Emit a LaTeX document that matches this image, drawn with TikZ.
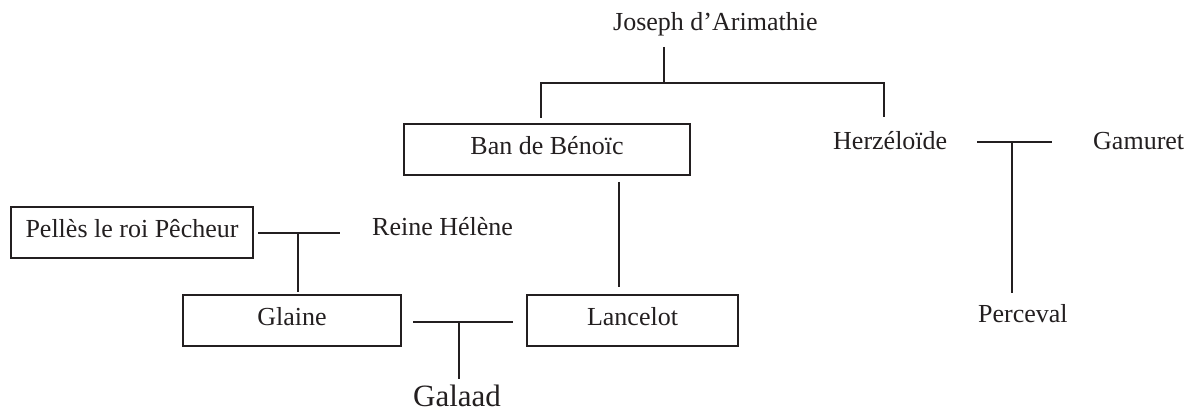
\documentclass[tikz,border=0pt]{standalone}
\usepackage{fontspec}
\setmainfont{Liberation Serif}
\definecolor{encre}{HTML}{231F20}
\begin{document}
\begin{tikzpicture}[x=1pt,y=-1pt,
  lbl/.style={inner sep=0pt,anchor=base west,font=\fontsize{26}{30}\selectfont,text=encre},
  boite/.style={draw=encre,line width=2.6pt,inner sep=0pt,text height=17pt,text depth=6pt,
    font=\fontsize{26}{30}\selectfont,text=encre},
  lien/.style={draw=encre,line width=2.6pt}]
\useasboundingbox (0,0) rectangle (1187,414);
% boxed persons
\node[boite,minimum width=286pt,minimum height=51pt] (ban) at (547,149.5) {Ban de Bénoïc};
\node[boite,minimum width=242pt,minimum height=51pt] (pelles) at (132,232.5) {Pellès le roi Pêcheur};
\node[boite,minimum width=218pt,minimum height=51pt] (glaine) at (292,320.5) {Glaine};
\node[boite,minimum width=211pt,minimum height=51pt] (lancelot) at (632.5,320.5) {Lancelot};
% plain names
\node[lbl] (joseph) at (613,31) {Joseph d’Arimathie};
\node[lbl] (herz) at (833,150) {Herzéloïde};
\node[lbl] (gamuret) at (1093,150) {Gamuret};
\node[lbl] (perceval) at (978,323) {Perceval};
\node[lbl] (reine) at (372,236) {Reine Hélène};
\node[lbl,font=\fontsize{31}{36}\selectfont] (galaad) at (413,406) {Galaad};
% junction coordinates
\coordinate (jtop) at (664,47);
\coordinate (jmid) at (664,83);
\coordinate (jl) at (541,83);
\coordinate (jr) at (884,83);
\coordinate (jlb) at (541,118);
\coordinate (jrb) at (884,117);
\coordinate (blt) at (619,182);
\coordinate (blb) at (619,287);
\coordinate (pa) at (258,233);
\coordinate (pb) at (340,233);
\coordinate (pm) at (298,233);
\coordinate (pd) at (298,292);
\coordinate (ga) at (413,322);
\coordinate (gb) at (513,322);
\coordinate (gm) at (459,322);
\coordinate (gd) at (459,379);
\coordinate (ha) at (977,142);
\coordinate (hb) at (1052,142);
\coordinate (hm) at (1012,142);
\coordinate (hd) at (1012,293);
% connectors
\draw[lien] (jtop) -- (jmid);
\draw[lien] (jlb) -- (jl) -- (jr) -- (jrb);
\draw[lien] (blt) -- (blb);
\draw[lien] (pa) -- (pb);
\draw[lien] (pm) -- (pd);
\draw[lien] (ga) -- (gb);
\draw[lien] (gm) -- (gd);
\draw[lien] (ha) -- (hb);
\draw[lien] (hm) -- (hd);
\end{tikzpicture}
\end{document}
